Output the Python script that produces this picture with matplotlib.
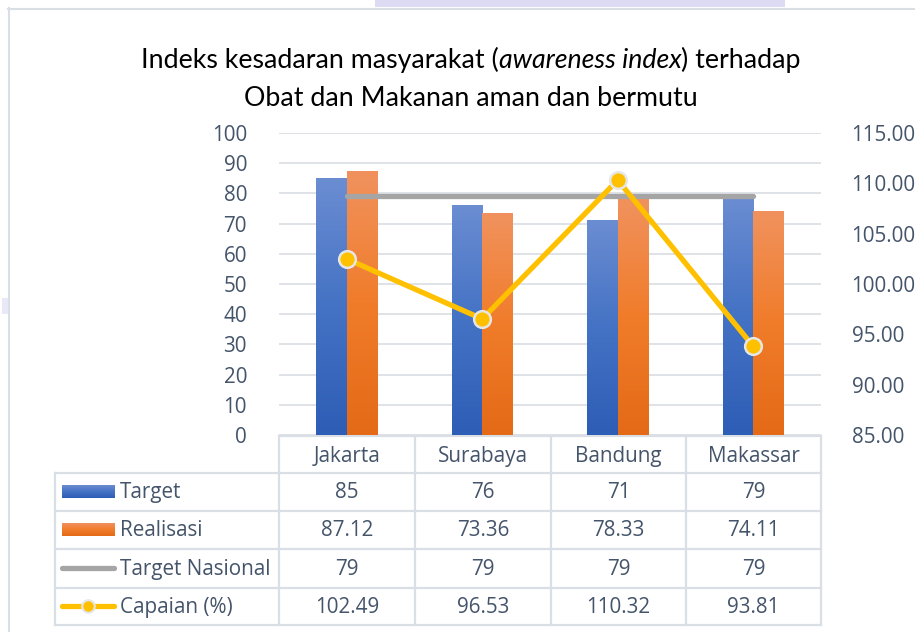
import numpy as np
import matplotlib
matplotlib.use("Agg")
import matplotlib.pyplot as plt
from matplotlib.colors import LinearSegmentedColormap
from matplotlib.lines import Line2D
from matplotlib.patches import Rectangle

# ---------------- data ----------------
categories = ["Jakarta", "Surabaya", "Bandung", "Makassar"]
target = [85, 76, 71, 79]
realisasi = [87.12, 73.36, 78.33, 74.11]
target_nasional = [79, 79, 79, 79]
capaian = [102.49, 96.53, 110.32, 93.81]
series_names = ["Target", "Realisasi", "Target Nasional", "Capaian (%)"]
left_ticks = [0, 10, 20, 30, 40, 50, 60, 70, 80, 90, 100]
right_ticks = [85, 90, 95, 100, 105, 110, 115]

W, H = 915, 632
fig = plt.figure(figsize=(W / 100, H / 100), dpi=100)
fig.patch.set_facecolor("white")
renderer = fig.canvas.get_renderer()

FONT = "Open Sans"
TITLE_FONT = "Lato"
TXT = "#44546A"
GRID = "#D9DDE3"
BORDER = "#DADFE6"

def fit_size(text, target_w, family, style="normal"):
    t = fig.text(0, 0, text, fontsize=10, family=family, style=style)
    w = t.get_window_extent(renderer).width
    t.remove()
    return 10 * target_w / w

def px_w(text, size, family, style="normal"):
    t = fig.text(0, 0, text, fontsize=size, family=family, style=style)
    w = t.get_window_extent(renderer).width
    t.remove()
    return w

fs = fit_size("Target Nasional", 151, FONT)

# ---------------- overlay (pixel coords) ----------------
ov = fig.add_axes([0, 0, 1, 1], zorder=0)
ov.set_xlim(0, W)
ov.set_ylim(H, 0)
ov.axis("off")

# frame and decorations
ov.add_line(Line2D([8.5, 8.5], [8, H], color=BORDER, lw=1.5))
ov.add_line(Line2D([8, W], [8.5, 8.5], color=BORDER, lw=1.5))
ov.add_patch(Rectangle((375, 0), 410, 7, color="#DDDBF4", lw=0))
ov.add_patch(Rectangle((2, 298), 6, 16, color="#EAE8F8", lw=0))

# title
tfs = fit_size("Obat dan Makanan aman dan bermutu", 451, TITLE_FONT)
p1 = "Indeks kesadaran masyarakat ("
p2 = "awareness index"
p3 = ") terhadap"
w1 = px_w(p1, tfs, TITLE_FONT)
w2 = px_w(p2, tfs, TITLE_FONT, "italic")
w3 = px_w(p3, tfs, TITLE_FONT)
cx = 471
x0 = cx - (w1 + w2 + w3) / 2
ov.text(x0, 68, p1, fontsize=tfs, family=TITLE_FONT, va="baseline", ha="left", color="black")
ov.text(x0 + w1, 68, p2, fontsize=tfs, family=TITLE_FONT, style="italic", va="baseline", ha="left", color="black")
ov.text(x0 + w1 + w2, 68, p3, fontsize=tfs, family=TITLE_FONT, va="baseline", ha="left", color="black")
ov.text(cx, 106, "Obat dan Makanan aman dan bermutu", fontsize=tfs, family=TITLE_FONT,
        va="baseline", ha="center", color="black")

# table
col_edges = [279, 415, 551, 686, 821]
row_edges = [436, 473, 511, 549, 588, 625]
tbl_left = 55
lw_t = 1.6
ov.add_line(Line2D([col_edges[0], col_edges[-1]], [row_edges[0]] * 2, color=BORDER, lw=lw_t))
for y in row_edges[1:]:
    ov.add_line(Line2D([tbl_left, col_edges[-1]], [y, y], color=BORDER, lw=lw_t))
ov.add_line(Line2D([tbl_left, tbl_left], [row_edges[1], row_edges[-1]], color=BORDER, lw=lw_t))
for x in col_edges:
    ov.add_line(Line2D([x, x], [row_edges[0], row_edges[-1]], color=BORDER, lw=lw_t))

def fmt(v):
    return str(int(v)) if float(v).is_integer() else f"{v:.2f}"

header_base = 462
row_bases = [498, 536, 575, 613]
for i, c in enumerate(categories):
    xc = (col_edges[i] + col_edges[i + 1]) / 2
    ov.text(xc, header_base, c, fontsize=fs, family=FONT, color=TXT, ha="center", va="baseline")
    for r, vals in enumerate([target, realisasi, target_nasional, capaian]):
        ov.text(xc, row_bases[r], fmt(vals[i]), fontsize=fs, family=FONT, color=TXT,
                ha="center", va="baseline")

for r, name in enumerate(series_names):
    ov.text(120, row_bases[r], name, fontsize=fs, family=FONT, color=TXT, ha="left", va="baseline")

blue_cmap = LinearSegmentedColormap.from_list("b", ["#2E5DB6", "#4472C4", "#6B8DD2"])
orange_cmap = LinearSegmentedColormap.from_list("o", ["#E46A17", "#F07C2A", "#F1925E"])
grad = np.linspace(0, 1, 256).reshape(-1, 1)

# legend keys
ov.imshow(grad, extent=[62, 115, 498, 485], aspect="auto", cmap=blue_cmap, origin="lower", zorder=3)
ov.imshow(grad, extent=[62, 115, 536, 523], aspect="auto", cmap=orange_cmap, origin="lower", zorder=3)
ov.add_line(Line2D([62, 114], [568, 568], color="#A5A5A5", lw=3.8, solid_capstyle="round"))
ov.add_line(Line2D([62, 114], [606, 606], color="#FFC000", lw=3.8, solid_capstyle="round"))
ov.add_line(Line2D([88], [606], marker="o", ms=9, mfc="#FFC000", mec="#E6E6E6", mew=1.5, lw=0))
ov.set_xlim(0, W)
ov.set_ylim(H, 0)

# ---------------- main chart ----------------
ax_l, ax_r = 279, 821
ax_t, ax_b = 133, 435
ax = fig.add_axes([ax_l / W, 1 - ax_b / H, (ax_r - ax_l) / W, (ax_b - ax_t) / H], zorder=1)
ax.patch.set_alpha(0)
x = np.arange(len(categories))
bw = 0.225
for i in range(len(categories)):
    ax.imshow(grad, extent=[x[i] - bw, x[i], 0, target[i]], aspect="auto", cmap=blue_cmap,
              origin="lower", zorder=2, interpolation="bicubic")
    ax.imshow(grad, extent=[x[i], x[i] + bw, 0, realisasi[i]], aspect="auto", cmap=orange_cmap,
              origin="lower", zorder=2, interpolation="bicubic")
ax.plot(x, target_nasional, color="#A5A5A5", lw=3.8, solid_capstyle="round", zorder=3)
ax.set_xlim(-0.5, len(categories) - 0.5)
ax.set_ylim(0, 100)
ax.set_yticks(left_ticks)
ax.set_xticks([])
ax.grid(axis="y", color=GRID, lw=1.2, zorder=0)
ax.set_axisbelow(True)
for s in ax.spines.values():
    s.set_visible(False)
ax.tick_params(axis="y", length=0, pad=23, labelcolor=TXT, labelsize=fs)
for lab in ax.get_yticklabels():
    lab.set_family(FONT)

ax2 = ax.twinx()
ax2.patch.set_alpha(0)
ax2.plot(x, capaian, color="#FFC000", lw=3.8, marker="o", ms=12, mfc="#FFC000",
         mec="#E6E6E6", mew=1.8, zorder=4, solid_joinstyle="round")
ax2.set_ylim(85, 115)
ax2.set_yticks(right_ticks)
ax2.set_yticklabels([f"{v:.2f}" for v in right_ticks])
for s in ax2.spines.values():
    s.set_visible(False)
ax2.tick_params(axis="y", length=0, pad=22, labelcolor=TXT, labelsize=fs)
for lab in ax2.get_yticklabels():
    lab.set_family(FONT)
ax2.set_xlim(-0.5, len(categories) - 0.5)

fig.savefig("out.png", dpi=100, facecolor="white")
